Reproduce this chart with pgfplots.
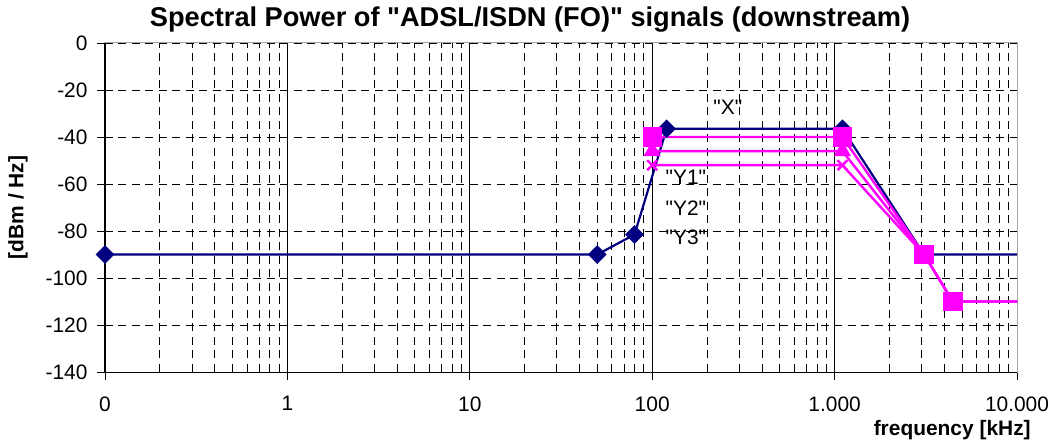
\documentclass[border=0pt]{standalone}
\usepackage{fontspec}
\setmainfont{Liberation Sans}
% second family without TeX ligatures, so that " stays a straight quote
\newfontfamily\nq{Liberation Sans}
\usepackage{pgfplots}
\pgfplotsset{compat=1.18}
\definecolor{navy}{RGB}{0,0,128}
\definecolor{mag}{RGB}{255,0,255}

\begin{document}
\begin{tikzpicture}
\begin{axis}[
  at={(0,0)}, anchor=south west,
  scale only axis, width=912bp, height=329bp,
  xmode=log, log basis x=10,
  xmin=0.1, xmax=10000, ymin=-140, ymax=0,
  xtick={0.1,1,10,100,1000,10000},
  xticklabels={0,1,10,100,1.000,10.000},
  minor xtick={0.2,0.3,0.4,0.5,0.6,0.7,0.8,0.9,2,3,4,5,6,7,8,9,20,30,40,50,60,70,80,90,200,300,400,500,600,700,800,900,2000,3000,4000,5000,6000,7000,8000,9000},
  ytick={-140,-120,-100,-80,-60,-40,-20,0},
  yticklabels={-140,-120,-100,-80,-60,-40,-20,0},
  xtick pos=lower, ytick pos=left, tick align=outside,
  major tick length=8bp, minor tick length=0pt,
  tick style={black, line width=0.8bp},
  xmajorgrids, xminorgrids, ymajorgrids,
  major x grid style={black, line width=0.8bp, solid},
  minor x grid style={black, line width=0.8bp, dash pattern=on 8bp off 5.5bp},
  major y grid style={black, line width=0.8bp, dash pattern=on 8bp off 5.5bp},
  axis line style={gray!70, line width=1bp},
  clip=false,
  ticklabel style={font=\fontsize{21}{25}\selectfont},
  xticklabel style={yshift=-13bp},
  yticklabel style={xshift=-6bp},
  title={Spectral Power of "ADSL/ISDN (FO)" signals (downstream)},
  title style={font=\fontsize{27.3}{32}\selectfont\nq\bfseries, at={(axis description cs:0.466,1)}, anchor=center, yshift=17bp},
  ylabel={[dBm / Hz]},
  ylabel style={font=\fontsize{21}{25}\selectfont\bfseries, at={(axis description cs:-0.0954,0.5)}, anchor=center},
  xlabel={frequency [kHz]},
  xlabel style={font=\fontsize{21}{25}\selectfont\bfseries, at={(axis description cs:0.929,-0.176)}, anchor=center},
]
% X
\addplot[navy, line width=2.2bp, mark=square*, mark size=5.5bp,
  mark options={rotate=45, solid}, mark indices={1,2,3,4,5,6}]
  coordinates {(0.1,-90) (50,-90) (80,-81.5) (120,-36.5) (1104,-36.5) (3093,-90) (10000,-90)};
% Y3
\addplot[mag, line width=2.4bp, mark=x, mark size=7bp, mark indices={1,2,3,4}]
  coordinates {(100,-52) (1104,-52) (3093,-90) (4450,-110) (10000,-110)};
% Y2
\addplot[mag, line width=2.4bp, mark=triangle*, mark size=7.5bp, mark indices={1,2,3,4}]
  coordinates {(100,-46) (1104,-46) (3093,-90) (4450,-110) (10000,-110)};
% Y1
\addplot[mag, line width=2.4bp, mark=square*, mark size=8.5bp, mark indices={1,2,3,4}]
  coordinates {(100,-40) (1104,-40) (3093,-90) (4450,-110) (10000,-110)};

\draw[black, line width=1bp] (rel axis cs:0,1) -- (rel axis cs:0,0) -- (rel axis cs:1,0);

\node[font=\fontsize{21}{25}\selectfont\nq] at (axis cs:260,-27.2) {"X"};
\node[font=\fontsize{21}{25}\selectfont\nq] at (axis cs:153,-57) {"Y1"};
\node[font=\fontsize{21}{25}\selectfont\nq] at (axis cs:153,-70.2) {"Y2"};
\node[font=\fontsize{21}{25}\selectfont\nq] at (axis cs:153,-82.6) {"Y3"};
\end{axis}
\pgfresetboundingbox
\path[use as bounding box] (-105bp,-69bp) rectangle (945bp,372bp);
\end{tikzpicture}
\end{document}
